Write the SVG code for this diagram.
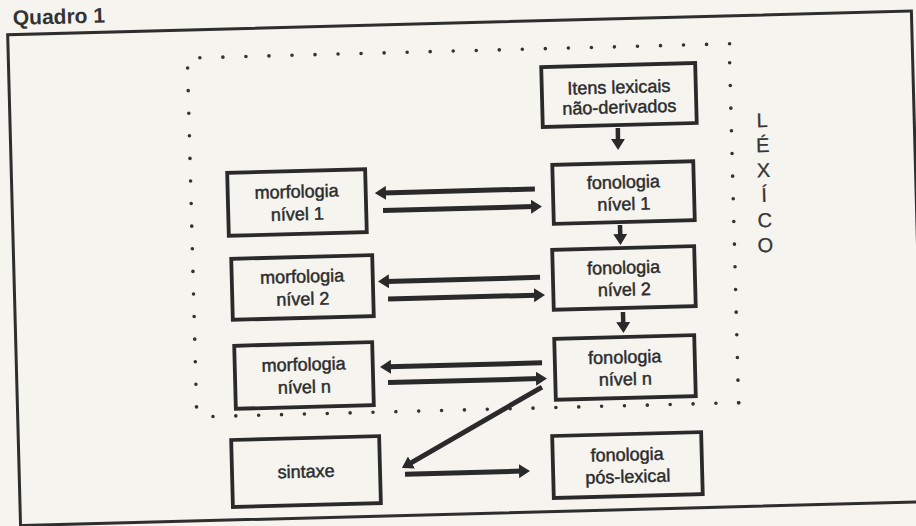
<svg xmlns="http://www.w3.org/2000/svg" width="916" height="526" viewBox="0 0 916 526">
  <defs>
    <style>
      .frame{fill:none;stroke:#2e2e2e;stroke-width:3}
      .box{fill:none;stroke:#2a2a2a;stroke-width:3.8}
      .lbl{font-family:"Liberation Sans",Arial,Helvetica,sans-serif;font-size:18px;fill:#2c2c2c;stroke:#2c2c2c;stroke-width:0.45;text-anchor:middle}
      .title{font-family:"Liberation Sans",Arial,Helvetica,sans-serif;font-size:21px;font-weight:bold;fill:#333}
      .lex{font-family:"Liberation Sans",Arial,Helvetica,sans-serif;font-size:20px;fill:#353535;stroke:#353535;stroke-width:0.3;text-anchor:middle}
      .arr{fill:none;stroke:#2a2a2a;stroke-width:5;marker-end:url(#head)}
      .arr.v{stroke-width:4.5}
      .dots{fill:none;stroke:#333;stroke-width:3.6;stroke-linecap:round}
    </style>
    <marker id="head" viewBox="0 0 11 14" refX="3" refY="7" markerWidth="11" markerHeight="14" markerUnits="userSpaceOnUse" orient="auto">
      <path d="M0,0 L11,7 L0,14 z" fill="#2a2a2a"/>
    </marker>
  </defs>

  <rect width="916" height="526" fill="#f5f4ef"/>

  <g transform="rotate(-1.5 458 270)">
    <text class="title" x="19.6" y="13.4">Quadro 1</text>
    <rect class="frame" x="14" y="23" width="904" height="491"/>

    <!-- dotted boundary of the lexicon -->
    <g id="lexicon-boundary">
      <line class="dots" x1="205.5" y1="51" x2="735.6" y2="51" stroke-dasharray="0 23.04"/>
      <line class="dots" x1="735" y1="70" x2="735" y2="410.6" stroke-dasharray="0 22.67"/>
      <line class="dots" x1="209.2" y1="410" x2="735.4" y2="410" stroke-dasharray="0 22.87"/>
      <line class="dots" x1="193" y1="61" x2="193" y2="400.6" stroke-dasharray="0 22.6"/>
      <text class="lex"><tspan x="766" y="135">L</tspan><tspan x="766" y="160">É</tspan><tspan x="766" y="185">X</tspan><tspan x="766" y="210">Í</tspan><tspan x="766" y="235">C</tspan><tspan x="766" y="260">O</tspan></text>
    </g>

    <g id="itens">
      <rect class="box" x="546.5" y="69.3" width="154" height="60"/>
      <text class="lbl" x="623.5" y="97.5">Itens lexicais</text>
      <text class="lbl" x="623.5" y="117.5">não-derivados</text>
    </g>
    <g id="fon1">
      <rect class="box" x="555" y="167.4" width="141" height="59"/>
      <text class="lbl" x="625.5" y="192.5">fonologia</text>
      <text class="lbl" x="625.5" y="214.5">nível 1</text>
    </g>
    <g id="fon2">
      <rect class="box" x="552.7" y="252.3" width="142" height="60"/>
      <text class="lbl" x="623.7" y="278">fonologia</text>
      <text class="lbl" x="623.7" y="300">nível 2</text>
    </g>
    <g id="fonn">
      <rect class="box" x="552.4" y="341.3" width="140" height="61"/>
      <text class="lbl" x="622.4" y="367.5">fonologia</text>
      <text class="lbl" x="622.4" y="389.5">nível n</text>
    </g>
    <g id="fonpos">
      <rect class="box" x="547.8" y="438.4" width="149" height="62"/>
      <text class="lbl" x="622.3" y="465">fonologia</text>
      <text class="lbl" x="622.3" y="487">pós-lexical</text>
    </g>
    <g id="morf1">
      <rect class="box" x="229.8" y="166.8" width="138" height="63"/>
      <text class="lbl" x="298.8" y="193.5">morfologia</text>
      <text class="lbl" x="298.8" y="216">nível 1</text>
    </g>
    <g id="morf2">
      <rect class="box" x="231.6" y="252.9" width="141" height="61"/>
      <text class="lbl" x="302.1" y="278.5">morfologia</text>
      <text class="lbl" x="302.1" y="301">nível 2</text>
    </g>
    <g id="morfn">
      <rect class="box" x="232.3" y="339.9" width="138" height="63"/>
      <text class="lbl" x="301.3" y="366.5">morfologia</text>
      <text class="lbl" x="301.3" y="389">nível n</text>
    </g>
    <g id="sintaxe">
      <rect class="box" x="226.8" y="434" width="148" height="67"/>
      <text class="lbl" x="300.8" y="473.5">sintaxe</text>
    </g>

    <g id="connectors">
      <line class="arr v" x1="621.5" y1="132.2" x2="621.3" y2="146.2"/>
      <line class="arr v" x1="621.1" y1="229.3" x2="621.1" y2="241.3"/>
      <line class="arr v" x1="621.8" y1="316.3" x2="621.8" y2="329.3"/>
      <line class="arr" x1="537" y1="191" x2="385" y2="191"/>
      <line class="arr" x1="384.6" y1="208.6" x2="535.6" y2="208.6"/>
      <line class="arr" x1="539.8" y1="279.5" x2="385.7" y2="279.5"/>
      <line class="arr" x1="387.3" y1="297.2" x2="536.3" y2="297.2"/>
      <line class="arr" x1="539.6" y1="365" x2="385.5" y2="365"/>
      <line class="arr" x1="385.1" y1="380.7" x2="536.1" y2="380.7"/>
      <line class="arr" x1="538.9" y1="389.2" x2="403.8" y2="462.7"/>
      <line class="arr" x1="399.7" y1="472.7" x2="516.7" y2="472.7"/>
    </g>
  </g>
</svg>
